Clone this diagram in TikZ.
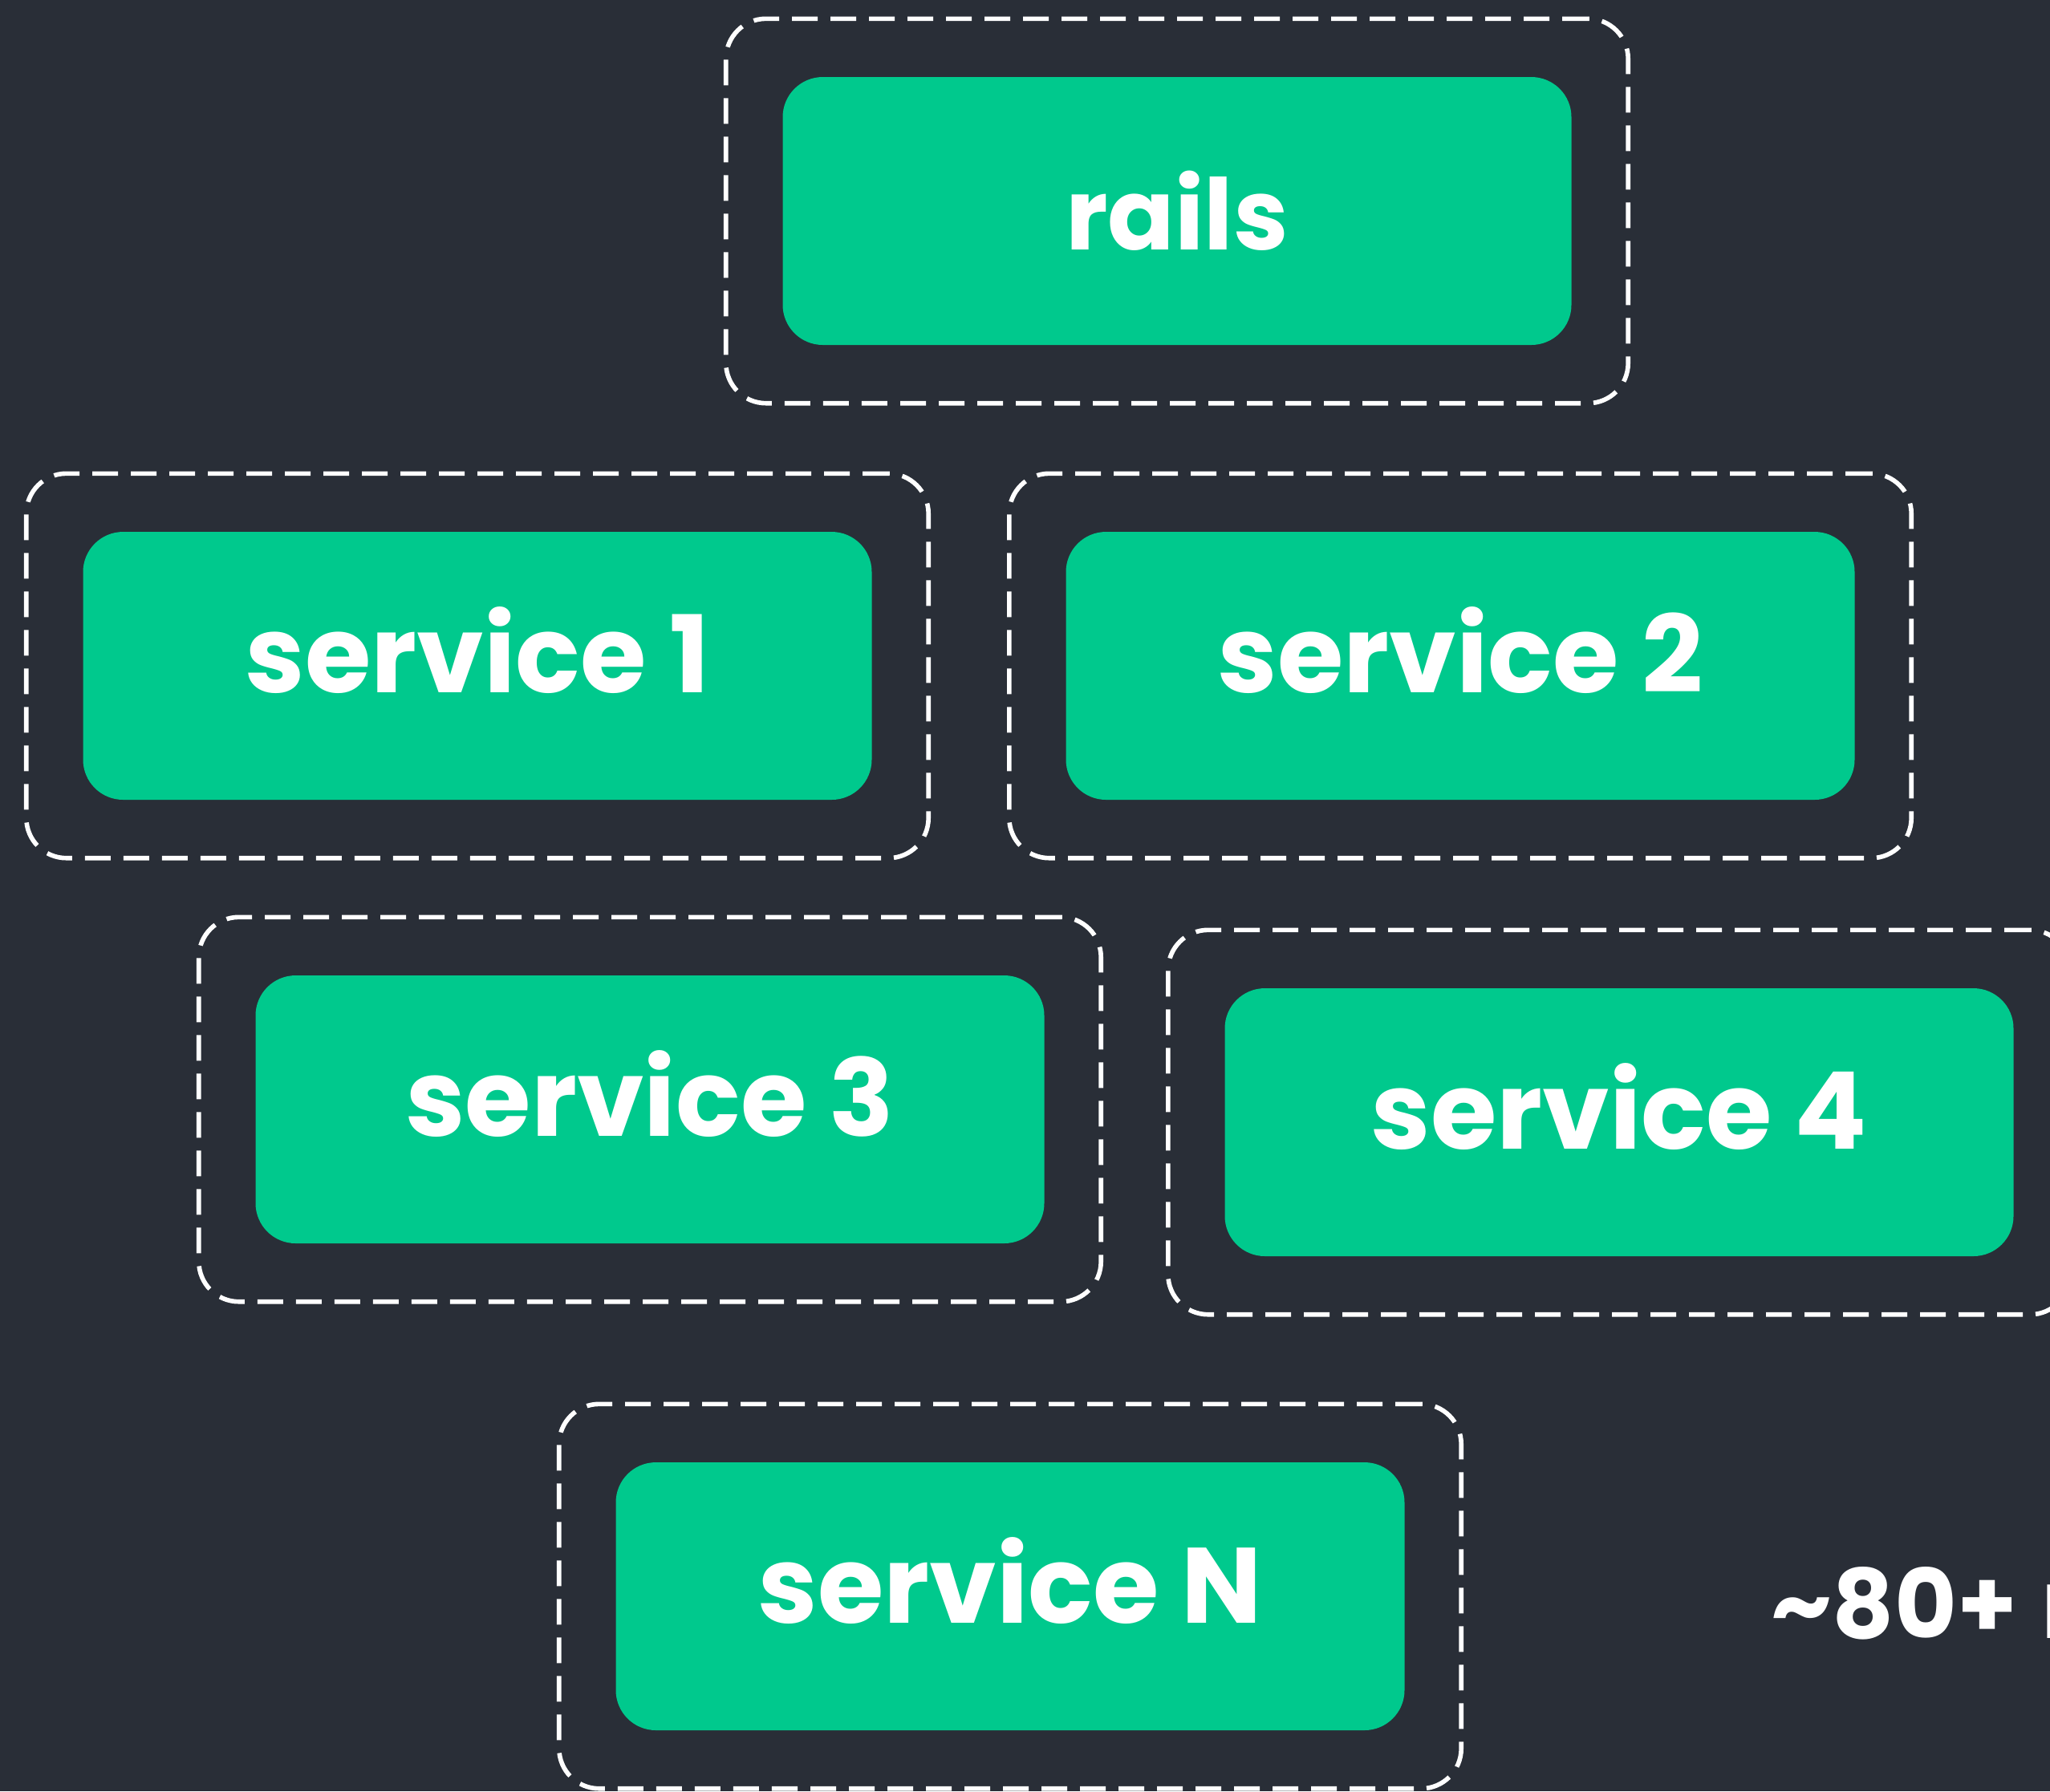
\documentclass[tikz,border=0pt]{standalone}
\usepackage{fontspec}
\setmainfont{Poppins}
\usepackage{tikz}
\usetikzlibrary{fit}
\usepackage{xcolor}
\definecolor{bgdark}{HTML}{292E37}
\definecolor{svcgreen}{HTML}{00C98D}

\begin{document}
\begin{tikzpicture}[
  svc/.style={fill=svcgreen, rounded corners=0.5cm, minimum width=9.83cm, minimum height=3.34cm, text=white, text height=0.9cm, text depth=0.24cm, font=\fontsize{38}{46}\selectfont\bfseries},
  svcbox/.style={draw=white, line width=1.6pt, dash pattern=on 0.32cm off 0.16cm, rounded corners=0.5cm, inner xsep=0.7cm, inner ysep=0.72cm}
]
% 背景
\fill[bgdark] (0,0) rectangle (25.55,-22.33);
\useasboundingbox (0,0) rectangle (25.55,-22.33);
\clip (0,0) rectangle (25.55,-22.33);
% 单体应用 rails
\node[svc, text height=, text depth=, font=\fontsize{35}{42}\selectfont\bfseries] (rails) at (14.67,-2.63) {rails};
\node[svcbox, fit=(rails)] (railsbox) {};
% 第一排服务
\node[svc] (svc1) at (5.95,-8.30) {service 1};
\node[svcbox, fit=(svc1)] (svc1box) {};
\node[svc] (svc2) at (18.20,-8.30) {service 2};
\node[svcbox, fit=(svc2)] (svc2box) {};
% 第二排服务
\node[svc] (svc3) at (8.10,-13.83) {service 3};
\node[svcbox, fit=(svc3)] (svc3box) {};
\node[svc] (svc4) at (20.18,-13.99) {service 4};
\node[svcbox, fit=(svc4)] (svc4box) {};
% 最后一个服务
\node[svc] (svcN) at (12.59,-19.90) {service N};
\node[svcbox, fit=(svcN)] (svcNbox) {};
% 右下角的说明
\node[anchor=base west, inner sep=0pt, text=white, font=\fontsize{34}{40}\selectfont\bfseries] (count) at (22.07,-20.42) {\textasciitilde80+\hspace{0.3cm}r};
\end{tikzpicture}
\end{document}
